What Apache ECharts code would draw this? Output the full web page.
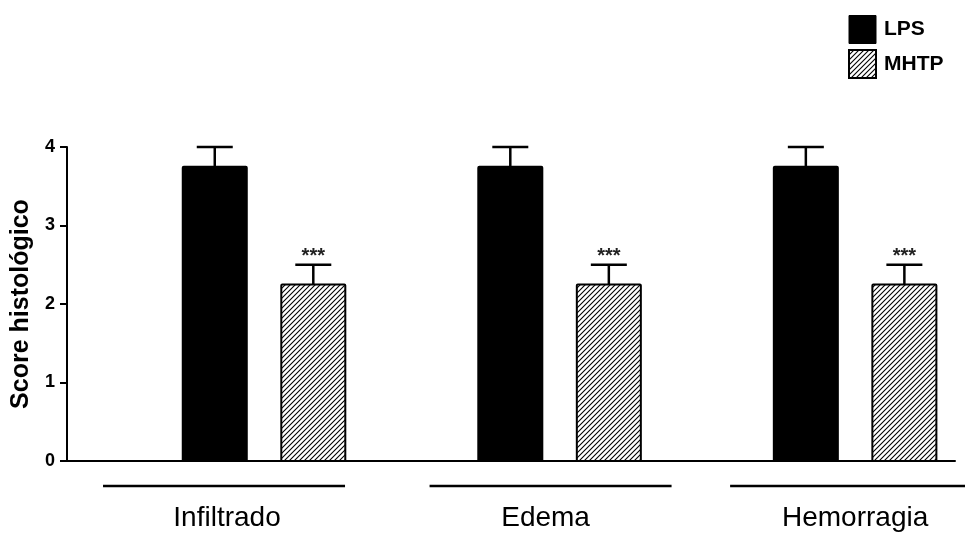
<!DOCTYPE html>
<html>
<head>
<meta charset="utf-8">
<script src="https://cdn.jsdelivr.net/npm/echarts@6/dist/echarts.min.js"></script>
<style>html,body{margin:0;padding:0;background:#fff}#c{width:965px;height:535px}</style>
</head>
<body>
<div id="c"></div>
<script>
const categories = ['Infiltrado', 'Edema', 'Hemorragia'];
const seriesNames = ['LPS', 'MHTP'];
const lpsMean = [3.75, 3.75, 3.75];
const lpsErr = [0.25, 0.25, 0.25];
const mhtpMean = [2.25, 2.25, 2.25];
const mhtpErr = [0.25, 0.25, 0.25];
const mhtpSig = ['***', '***', '***'];
const yTicks = [0, 1, 2, 3, 4];

const FONT = "'Liberation Sans', Arial, sans-serif";

// hatch pattern
function makeHatch() {
  const s = 5;
  const cv = document.createElement('canvas');
  cv.width = s; cv.height = s;
  const ctx = cv.getContext('2d');
  ctx.fillStyle = '#fff';
  ctx.fillRect(0, 0, s, s);
  ctx.strokeStyle = '#000';
  ctx.lineWidth = 1.1;
  ctx.beginPath();
  ctx.moveTo(0, s); ctx.lineTo(s, 0);
  ctx.moveTo(-1, 1); ctx.lineTo(1, -1);
  ctx.moveTo(s - 1, s + 1); ctx.lineTo(s + 1, s - 1);
  ctx.stroke();
  return cv;
}
const hatch = { image: makeHatch(), repeat: 'repeat' };

const barOffset = [-0.1667, 0.1667];
const barWidthU = 0.2166;
const underlineShift = [-40, -9, -4];
const labelShift = [-37, -14, 0];

function barRenderer(k, fill) {
  return function (params, api) {
    const gi = api.value(0), v = api.value(1), e = api.value(2);
    const unit = api.size([1, 0])[0];
    const base = api.coord([gi, 0]);
    const cx = base[0] + barOffset[k] * unit;
    const top = api.coord([gi, v])[1];
    const errY = api.coord([gi, v + e])[1];
    const w = barWidthU * unit;
    const children = [
      { type: 'line', shape: { x1: cx, y1: top, x2: cx, y2: errY }, style: { stroke: '#000', lineWidth: 2.5 } },
      { type: 'line', shape: { x1: cx - 18, y1: errY, x2: cx + 18, y2: errY }, style: { stroke: '#000', lineWidth: 2.5 } },
      { type: 'rect', shape: { x: cx - w / 2, y: top, width: w, height: base[1] - top, r: 1 },
        style: { fill: fill, stroke: '#000', lineWidth: 2 } }
    ];
    if (k === 1 && mhtpSig[params.dataIndex]) {
      children.push({ type: 'text', style: { text: mhtpSig[params.dataIndex], x: cx, y: errY - 18,
        align: 'center', verticalAlign: 'top', fill: '#222', font: 'bold 20px ' + FONT } });
    }
    return { type: 'group', children: children };
  };
}

const option = {
  animation: false,
  backgroundColor: '#fff',
  grid: { left: 67, right: 10, top: 147, bottom: 74 },
  legend: {
    orient: 'vertical', left: 843, top: 10, itemWidth: 27, itemHeight: 28, itemGap: 5,
    textStyle: { fontFamily: FONT, fontWeight: 'bold', fontSize: 21, color: '#000', padding: [4, 0, 0, 3] },
    data: [
      { name: 'LPS', icon: 'rect', itemStyle: { color: '#000', borderColor: '#000', borderWidth: 1 } },
      { name: 'MHTP', icon: 'rect', itemStyle: { color: hatch, borderColor: '#000', borderWidth: 2 } }
    ]
  },
  xAxis: {
    type: 'value', min: -2 / 3, max: 2.338,
    axisLine: { show: true, onZero: false, lineStyle: { color: '#000', width: 2 } },
    axisTick: { show: false }, axisLabel: { show: false }, splitLine: { show: false }
  },
  yAxis: {
    type: 'value', min: yTicks[0], max: yTicks[yTicks.length - 1], interval: 1,
    name: 'Score histológico', nameLocation: 'middle', nameGap: 31, nameRotate: 90,
    nameTextStyle: { fontFamily: FONT, fontWeight: 'bold', fontSize: 25, color: '#000' },
    axisLine: { show: true, onZero: false, lineStyle: { color: '#000', width: 2 } },
    axisTick: { show: true, length: 7, lineStyle: { color: '#000', width: 2 } },
    axisLabel: { fontFamily: FONT, fontWeight: 'bold', fontSize: 18, color: '#000', margin: 12 },
    splitLine: { show: false }
  },
  series: [
    {
      name: 'LPS', type: 'custom', clip: false,
      itemStyle: { color: '#000' },
      encode: { x: 0, y: 1 },
      data: lpsMean.map((v, i) => [i, v, lpsErr[i]]),
      renderItem: barRenderer(0, '#000'), z: 3
    },
    {
      name: 'MHTP', type: 'custom', clip: false,
      itemStyle: { color: hatch },
      encode: { x: 0, y: 1 },
      data: mhtpMean.map((v, i) => [i, v, mhtpErr[i]]),
      renderItem: barRenderer(1, hatch), z: 3
    },
    {
      type: 'custom', silent: true, clip: false,
      encode: { x: 0, y: 1 },
      data: categories.map((c, i) => [i, 0]),
      renderItem: function (params, api) {
        const i = params.dataIndex;
        const p = api.coord([api.value(0), 0]);
        const ux = p[0] + underlineShift[i];
        const lx = p[0] + labelShift[i];
        return { type: 'group', children: [
          { type: 'line', shape: { x1: ux - 121, y1: p[1] + 25, x2: ux + 121, y2: p[1] + 25 },
            style: { stroke: '#000', lineWidth: 2.5 } },
          { type: 'text', style: { text: categories[i], x: lx, y: p[1] + 57, align: 'center',
            verticalAlign: 'middle', fill: '#000', font: '28px ' + FONT } }
        ] };
      }
    }
  ]
};

const chart = echarts.init(document.getElementById('c'), null, { renderer: 'canvas' });
chart.setOption(option);
</script>
</body>
</html>
